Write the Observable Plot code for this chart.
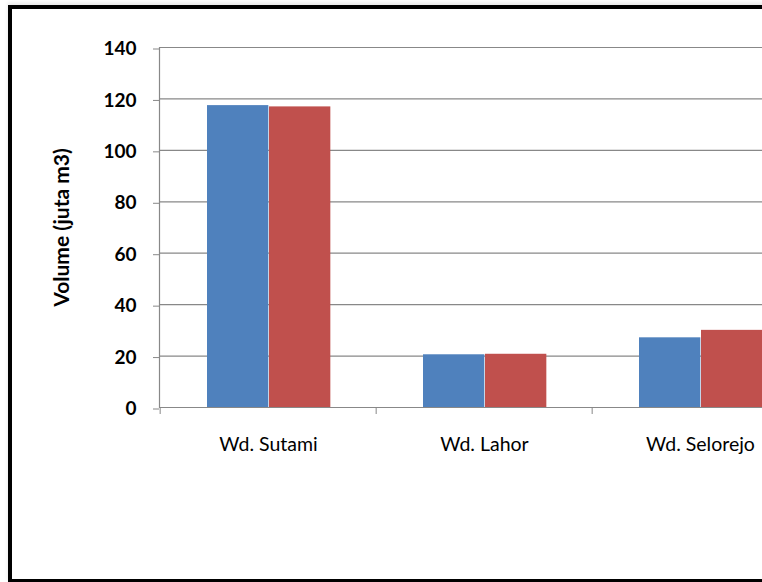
<!DOCTYPE html>
<html>
<head>
<meta charset="utf-8">
<script src="https://cdn.jsdelivr.net/npm/d3@7"></script>
<script src="https://cdn.jsdelivr.net/npm/@observablehq/plot@0.6"></script>
<style>
  html, body { margin: 0; padding: 0; background: #fff; width: 762px; height: 582px; overflow: hidden; }
  #chart { position: absolute; left: 0; top: 0; }
  #frame { position: absolute; left: 8px; top: 5px; width: 900px; height: 578px; box-sizing: border-box;
           border: 4px solid #000; box-shadow: 0 -2px 4px rgba(0,0,0,0.10); pointer-events: none; }
</style>
</head>
<body>
<div id="chart"></div>
<div id="frame"></div>
<script>
const categories = ["Wd. Sutami", "Wd. Lahor", "Wd. Selorejo"];
const seriesNames = ["Series 1", "Series 2"];
const series1 = [117.4, 20.5, 27.1];
const series2 = [116.9, 20.7, 30.0];
const yTicks = [0, 20, 40, 60, 80, 100, 120, 140];
const yLabel = "Volume (juta m3)";

const rows1 = categories.map((c, i) => ({category: c, series: seriesNames[0], value: series1[i]}));
const rows2 = categories.map((c, i) => ({category: c, series: seriesNames[1], value: series2[i]}));

const W = 830, mL = 159, mR = 21;
const bw = (W - mL - mR) / categories.length;

const font = "Lato, 'Open Sans', sans-serif";

const chart = Plot.plot({
  width: W,
  height: 582,
  marginLeft: mL,
  marginRight: mR,
  marginTop: 47,
  marginBottom: 175,
  style: {background: "transparent", maxWidth: "none", fontFamily: font, color: "#000", overflow: "visible"},
  x: {domain: categories, padding: 0},
  y: {domain: [0, 140]},
  marks: [
    Plot.gridY(yTicks.filter(d => d > 0), {stroke: "#888", strokeOpacity: 1, strokeWidth: 1.2}),
    Plot.barY(rows1, {x: "category", y: "value", fill: "#4F81BD", insetLeft: 47, insetRight: bw - 47 - 62}),
    Plot.barY(rows2, {x: "category", y: "value", fill: "#C0504D", insetLeft: 109, insetRight: bw - 109 - 62}),
    Plot.ruleY([0], {stroke: "#888", strokeWidth: 1.2}),
    Plot.frame({anchor: "left", stroke: "#888", strokeWidth: 1.2}),
    Plot.axisY({ticks: yTicks, tickSize: 6, tickPadding: 17, label: null, fontSize: 19, fontWeight: "bold", stroke: "#888", dy: 1.5}),
    Plot.axisX({tickSize: 0, tickPadding: 30, label: null, fontSize: 19.5}),
    Plot.axisX({tickSize: 7, tickFormat: () => "", label: null, dx: -bw / 2, stroke: "#888"}),
    Plot.text([yLabel], {frameAnchor: "left", textAnchor: "middle", dx: -97, rotate: -90, fontSize: 21, fontWeight: "bold", fill: "#000"})
  ]
});
document.getElementById("chart").appendChild(chart);
</script>
</body>
</html>
